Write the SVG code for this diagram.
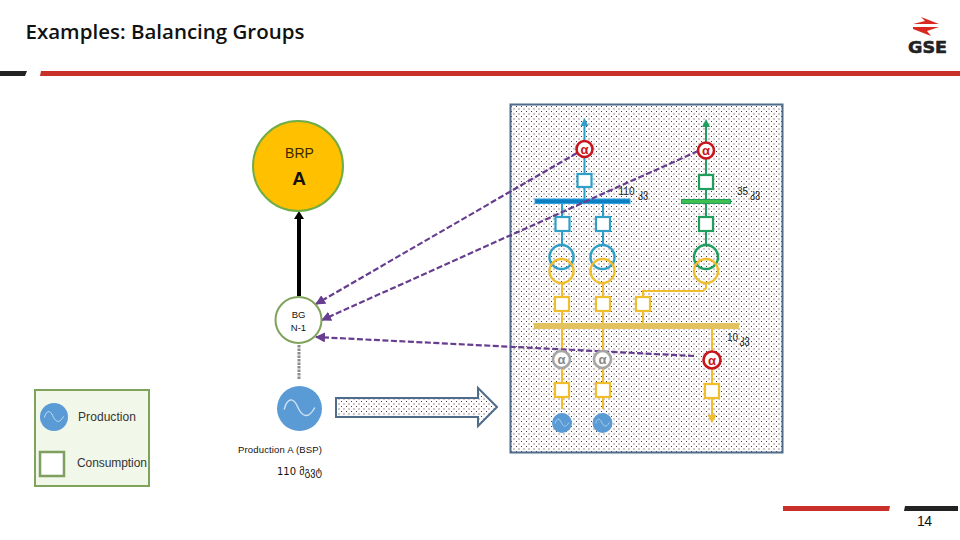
<svg xmlns="http://www.w3.org/2000/svg" xmlns:xlink="http://www.w3.org/1999/xlink" width="960" height="540" viewBox="0 0 960 540">
<style>
text{font-family:"Liberation Sans","DejaVu Sans",sans-serif;fill:#111}
.geo{font-family:"DejaVu Sans","Noto Sans",sans-serif}
.sq{fill:#fff;stroke-width:2.2}
.cy{stroke:#2e9fc9}.gr{stroke:#1f9e5e}.ye{stroke:#f0bd2c}
.ln{fill:none;stroke-width:2}
.ring{fill:none;stroke-width:2.4}
.al{fill:#fff;stroke-width:2.6}
.red{stroke:#c8141c}.grey{stroke:#a6a6a6}
.alt{font-size:13px;text-anchor:middle;font-weight:700}
.pur{fill:none;stroke:#663d8f;stroke-width:2.2;stroke-dasharray:6 2.5}
.v{font-size:10px;fill:#222}
</style>
<defs>
<pattern id="dots" width="5" height="5" patternUnits="userSpaceOnUse">
<rect width="5" height="5" fill="#fefcfc"/>
<rect x="1" y="1" width="1" height="1" fill="#443b3b"/>
<rect x="3.500" y="3.500" width="1" height="1" fill="#443b3b"/>
</pattern>
<marker id="pa" markerWidth="10" markerHeight="10" refX="9" refY="5" orient="auto" markerUnits="userSpaceOnUse" viewBox="0 0 10 10"><path d="M0 0L10 5L0 10Z" fill="#663d8f"/></marker>
<symbol id="sine" viewBox="-22 -22 44 44" overflow="visible">
<circle r="22" fill="#5b9bd5"/>
<path d="M-15 1C-12 -11 -6 -11 -2 -2S8 12 15 -1" fill="none" stroke="#cfe2f3" stroke-width="1.4"/>
</symbol>
</defs>
<rect width="960" height="540" fill="#fff"/>
<g id="header">
<text x="25.500" y="39" style="font-family:'Open Sans',sans-serif;font-weight:600;font-size:20px;fill:#111" textLength="279" lengthAdjust="spacingAndGlyphs">Examples: Balancing Groups</text>
<path d="M0 71H27L25 76H0Z" fill="#222"/>
<path d="M41 71H960V76H40Z" fill="#c9302a"/>
</g>
<g id="logo">
<path d="M913 24L925 21L921 17L939 24Z" fill="#d9281f"/>
<path d="M913 27H939L927 31L931 36L913 29Z" fill="#d9281f"/>
<text x="908" y="53" style="font-family:'DejaVu Sans',sans-serif;font-weight:700;font-size:16.500px;fill:#222" textLength="39" lengthAdjust="spacingAndGlyphs" stroke="#222" stroke-width=".6">GSE</text>
</g>
<g id="frame"><rect x="510.500" y="104.500" width="272" height="348" fill="url(#dots)" stroke="#4f6d8a" stroke-width="2"/></g>
<g id="arrow-block"><path d="M336 398H478V388L497 407L478 426V417H336Z" fill="url(#dots)" stroke="#4f6d8a" stroke-width="2"/></g>
<g id="single-line">
<g class="ln cy">
<path d="M584.500 124V141M584.500 158V174M584.500 187V200M562 203V218M603 203V218M562 231V245M603 231V245"/>
</g>
<path d="M584.500 118L580.500 126H588.500Z" fill="#2e9fc9"/>
<g class="ln gr"><path d="M706 124V142M706 159V175M706 189V218M706 231V245"/></g>
<path d="M706 119L702 127H710Z" fill="#1f9e5e"/>
<rect x="535" y="199" width="95" height="4.500" fill="#0f7fc4" stroke="#30a4e0" stroke-width="1"/>
<rect x="681.500" y="199.500" width="49" height="4" fill="#3fbf4f" stroke="#1f9e5e" stroke-width="1"/>
<g class="ln ye">
<path d="M562 283V297M603 283V297M562 311V352M603 311V352M562 368V383M603 368V383M562 397V409M603 397V409M643 311V323M643 297V291H703L706 288V283M712 328V352M712 369V384M712 398V416"/>
</g>
<path d="M712 423L707.500 415H716.500Z" fill="#f0bd2c"/>
<rect x="534" y="323" width="205" height="6" fill="#e2c35f"/>
</g>
<g id="switches">
<rect class="sq cy" x="577.500" y="174" width="14" height="13"/>
<rect class="sq cy" x="555.500" y="217" width="14" height="14"/>
<rect class="sq cy" x="596" y="217" width="14" height="14"/>
<rect class="sq gr" x="699" y="175" width="14" height="14"/>
<rect class="sq gr" x="699" y="217" width="14" height="14"/>
<rect class="sq ye" x="555" y="297" width="14" height="14"/>
<rect class="sq ye" x="596" y="297" width="14" height="14"/>
<rect class="sq ye" x="636" y="297" width="14" height="14"/>
<rect class="sq ye" x="555" y="383" width="14" height="14"/>
<rect class="sq ye" x="596" y="383" width="14" height="14"/>
<rect class="sq ye" x="705" y="384" width="14" height="14"/>
</g>
<g id="transformers">
<circle class="ring cy" cx="561.500" cy="257" r="12"/>
<circle class="ring ye" cx="561.500" cy="271" r="12"/>
<circle class="ring cy" cx="602.500" cy="257" r="12"/>
<circle class="ring ye" cx="602.500" cy="271" r="12"/>
<circle class="ring gr" cx="706" cy="257" r="12"/>
<circle class="ring ye" cx="706" cy="271" r="12"/>
</g>
<g id="voltage-labels">
<text class="v" x="618.500" y="195">110</text><text class="v geo" x="638" y="197">კვ</text>
<text class="v" x="737" y="195">35</text><text class="v geo" x="750" y="197">კვ</text>
<text class="v" x="727" y="341">10</text><text class="v geo" x="739.500" y="343">კვ</text>
</g>
<g id="connectors">
<path d="M299 296V218" fill="none" stroke="#000" stroke-width="4"/>
<path d="M299 211L294 219H304Z" fill="#000"/>
<path d="M299 345V380" fill="none" stroke="#8c8c8c" stroke-width="3" stroke-dasharray="2.500 1"/>
<path class="pur" marker-end="url(#pa)" d="M577 153L316 304"/>
<path class="pur" marker-end="url(#pa)" d="M698 151L322 320"/>
<path class="pur" marker-end="url(#pa)" d="M694 356L316 337"/>
</g>
<g id="meters">
<circle class="al red" cx="584.500" cy="149" r="8"/><text class="alt" x="584.500" y="153.500" style="fill:#c8141c">α</text>
<circle class="al red" cx="706" cy="150.500" r="8"/><text class="alt" x="706" y="155" style="fill:#c8141c">α</text>
<circle class="al grey" cx="561.500" cy="359.500" r="8.500"/><text class="alt" x="561.500" y="364" style="fill:#888">α</text>
<circle class="al grey" cx="602.500" cy="359.500" r="8.500"/><text class="alt" x="602.500" y="364" style="fill:#888">α</text>
<circle class="al red" cx="712" cy="360" r="8.500"/><text class="alt" x="712" y="364.500" style="fill:#c8141c">α</text>
</g>
<g id="generators">
<use xlink:href="#sine" href="#sine" x="552" y="413" width="20" height="20"/>
<use xlink:href="#sine" href="#sine" x="592.500" y="413" width="20" height="20"/>
</g>
<g id="brp">
<circle cx="298" cy="166" r="45" fill="#ffc000" stroke="#70ad47" stroke-width="2"/>
<text x="299.500" y="158" text-anchor="middle" style="font-size:14px;fill:#3a2a00">BRP</text>
<text x="299" y="185" text-anchor="middle" style="font-size:19px;font-weight:700;fill:#111">A</text>
</g>
<g id="bg">
<circle cx="298.500" cy="320" r="23" fill="#fff" stroke="#7fa35a" stroke-width="2"/>
<text x="298.500" y="318" text-anchor="middle" style="font-size:9.500px">BG</text>
<text x="298.500" y="331" text-anchor="middle" style="font-size:9.500px">N-1</text>
</g>
<g id="production">
<use xlink:href="#sine" href="#sine" x="277" y="386" width="45" height="45"/>
<text x="238" y="453" style="font-size:9.500px" textLength="84">Production A (BSP)</text>
<text class="geo" x="277" y="475" style="font-size:10px">110 მგვტ</text>
</g>
<g id="legend">
<rect x="35" y="390" width="114" height="96" fill="#f1f8ea" stroke="#7fa35a" stroke-width="2"/>
<use xlink:href="#sine" href="#sine" x="40" y="403" width="28" height="28"/>
<rect x="40" y="452" width="24" height="24" fill="#fff" stroke="#7f9f5f" stroke-width="2.500"/>
<text x="78" y="421" style="font-size:12px;fill:#333" textLength="58">Production</text>
<text x="77" y="467" style="font-size:12px;fill:#333" textLength="70">Consumption</text>
</g>
<g id="footer">
<path d="M783 506H890L889 511H783Z" fill="#c9302a"/>
<path d="M905 506H958V511H904Z" fill="#222"/>
<text x="917" y="526" style="font-size:14px" textLength="15">14</text>
</g>
</svg>
